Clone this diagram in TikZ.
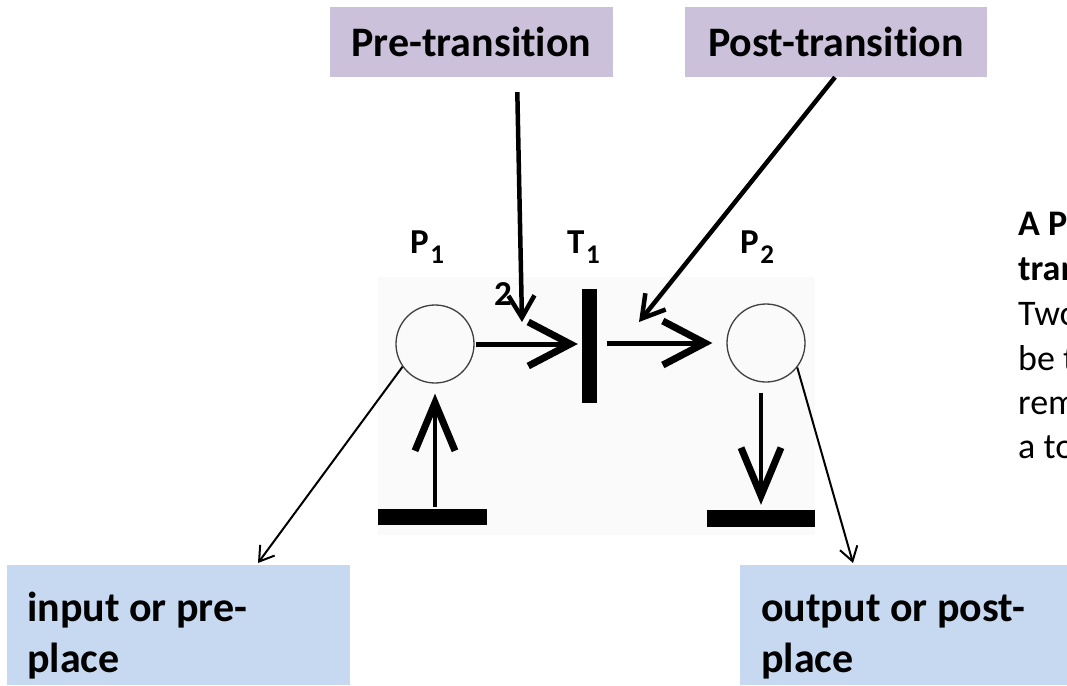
\documentclass[tikz,border=0pt]{standalone}
\usepackage{fontspec}
\setmainfont{Carlito}[Ligatures=NoCommon]
\usetikzlibrary{arrows.meta}
\definecolor{lav}{HTML}{CCC1DA}
\definecolor{lblue}{HTML}{C6D9F0}
\definecolor{imgbg}{HTML}{FAFAFA}
\begin{document}
\begin{tikzpicture}[x=1pt,y=-1pt,
  topbox/.style={fill=lav, minimum width=283pt, minimum height=70pt, inner sep=0pt,
    font=\fontsize{42}{50}\selectfont\bfseries},
  botbox/.style={fill=lblue, minimum width=343pt, minimum height=120pt, inner sep=0pt},
  bottext/.style={anchor=base west, inner sep=0pt, font=\fontsize{42}{51}\selectfont\bfseries},
  place/.style={circle, draw=black!75, line width=1.3pt, minimum size=78pt, inner sep=0pt},
  bar/.style={fill=black, inner sep=0pt},
  lbl/.style={anchor=base west, inner sep=0pt, font=\fontsize{35}{40}\selectfont\bfseries},
  petri/.style={line width=5pt, -{Straight Barb[length=42pt,width=44pt,line width=7pt]}},
  petriv/.style={line width=4.5pt, -{Straight Barb[length=48pt,width=40pt,line width=7pt]}},
  callout/.style={line width=4.5pt, -{Straight Barb[length=22pt,width=26pt,line width=4.5pt]}},
  thin/.style={line width=2pt, -{Straight Barb[length=14pt,width=18pt,line width=2pt]}},
  side/.style={anchor=base west, inner sep=0pt, font=\fontsize{36}{44}\selectfont}
]
\useasboundingbox (0,0) rectangle (1067,685);
\fill[white] (0,0) rectangle (1067,685);
% pasted image background
\fill[imgbg] (378,277) rectangle (815,535);

% top boxes
\node[topbox] (pre) at (471.5,42) {Pre-transition};
\node[topbox, minimum width=302pt] (post) at (836,42) {Post-transition};

% bottom boxes
\node[botbox] (inbox) at (178.5,625) {};
\node[botbox, minimum width=330pt] (outbox) at (905,625) {};
\node[bottext] (intext) at (27,621) {input or pre-};
\node[bottext] (intext2) at (27,672) {place};
\node[bottext] (outtext) at (761,621) {output or post-};
\node[bottext] (outtext2) at (761,672) {place};

% petri net
\node[place] (p1) at (435,344) {};
\node[place] (p2) at (766,343) {};
\node[bar, minimum width=15pt, minimum height=114pt] (t1) at (589.5,346) {};
\node[bar, minimum width=109pt, minimum height=16pt] (bl) at (432.5,517) {};
\node[bar, minimum width=108pt, minimum height=17pt] (br) at (761,518.5) {};

% labels
\node[lbl] (lp1) at (410,253) {P\hspace{1.5pt}\raisebox{-10pt}{\fontsize{27}{27}\selectfont 1}};
\node[lbl] (lt1) at (567,253) {T\hspace{1.5pt}\raisebox{-10pt}{\fontsize{27}{27}\selectfont 1}};
\node[lbl] (lp2) at (740,253) {P\hspace{1.5pt}\raisebox{-10pt}{\fontsize{27}{27}\selectfont 2}};
\node[lbl] (w2) at (494,305) {2};

% arcs
\draw[petri, shorten <=1pt, shorten >=4pt] (p1.east) -- (t1.west |- p1.east);
\draw[petri, shorten <=10pt, shorten >=14pt] (t1.east |- p2.west) -- (p2.west);
\draw[petriv, shorten <=2pt, shorten >=10pt] (bl.north -| p1.south) -- (p1.south);
\draw[petriv, shorten <=10pt, shorten >=5pt] (p2.south -| 761,0) -- (br.north -| 761,0);

% callouts
\coordinate (preTip) at (522,322);
\coordinate (postTip) at (639,322);
\draw[callout, shorten <=15pt] (pre.south -| 517,0) -- (preTip);
\draw[callout] (post.south -| 835,0) -- (postTip);

\coordinate (inTip) at (258,563);
\coordinate (outTip) at (853,563);
\draw[thin] (p1.215) -- (inTip);
\draw[thin] (p2.-38) -- (outTip);

% side text (cut off by the right edge, as in the original)
\node[side, font=\fontsize{36}{44}\selectfont\bfseries] (s1) at (1018,235) {A P};
\node[side, font=\fontsize{36}{44}\selectfont\bfseries] (s2) at (1018,280) {tran};
\node[side] (s3) at (1018,325) {Two};
\node[side] (s4) at (1018,370) {be t};
\node[side] (s5) at (1018,414) {rem};
\node[side] (s6) at (1018,458) {a to};
\end{tikzpicture}
\end{document}
